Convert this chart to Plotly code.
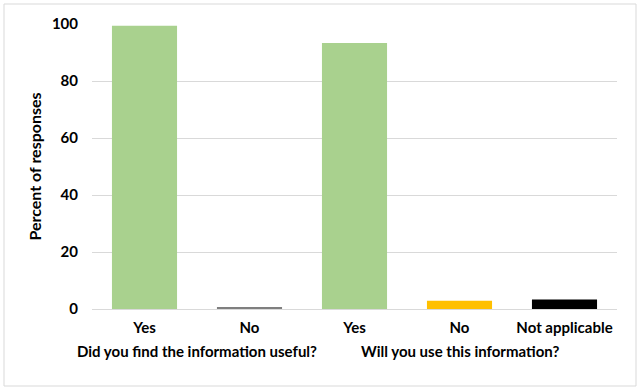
import plotly.graph_objects as go

# Survey responses
categories = ["Yes", "No", "Yes ", "No ", "Not applicable"]
percent = [99.4, 0.7, 93.3, 2.9, 3.3]
bar_colors = ["#A9D18E", "#7F7F7F", "#A9D18E", "#FFC000", "#000000"]
questions = ["Did you find the information useful?", "Will you use this information?"]
question_centers = [0.5, 3.0]
y_ticks = [0, 20, 40, 60, 80, 100]

FONT = "Lato"

fig = go.Figure(
    go.Bar(
        x=list(range(len(categories))),
        y=percent,
        marker=dict(color=bar_colors, line=dict(width=0)),
        width=0.62,
    )
)

fig.update_layout(
    width=640,
    height=390,
    margin=dict(l=92, r=23, t=24, b=81),
    paper_bgcolor="white",
    plot_bgcolor="white",
    showlegend=False,
    font=dict(family=FONT, size=15, color="#000000"),
)

fig.update_xaxes(
    tickmode="array",
    tickvals=list(range(len(categories))),
    ticktext=[f"<b>{c.strip()}</b>" for c in categories],
    range=[-0.5, len(categories) - 0.5],
    showgrid=False,
    showline=False,
    zeroline=False,
    ticks="",
    ticklen=0,
    ticklabelstandoff=8,
    tickfont=dict(family=FONT, size=15),
)

fig.update_yaxes(
    range=[0, 100],
    tickvals=y_ticks,
    ticktext=[f"<b>{v}</b>" for v in y_ticks],
    showgrid=True,
    gridcolor="#D9D9D9",
    gridwidth=1,
    zeroline=True,
    zerolinecolor="#D9D9D9",
    zerolinewidth=1,
    showline=False,
    ticks="",
    ticklabelstandoff=13,
    tickfont=dict(family=FONT, size=15),
    title=dict(text="<b>Percent of responses</b>", font=dict(family=FONT, size=16), standoff=6),
)

# Question labels under each group of answers
for q, cx in zip(questions, question_centers):
    fig.add_annotation(
        x=cx, xref="x",
        y=-0.147, yref="paper",
        text=f"<b>{q}</b>",
        showarrow=False,
        font=dict(family=FONT, size=15),
        yanchor="middle",
    )

# Chart frame
fig.add_shape(
    type="rect",
    xref="paper", yref="paper",
    x0=-88 / 525, x1=544 / 525,
    y0=-77 / 285, y1=305 / 285,
    line=dict(color="#D9D9D9", width=1),
    fillcolor="rgba(0,0,0,0)",
    layer="below",
)

fig.write_html("out.html")
